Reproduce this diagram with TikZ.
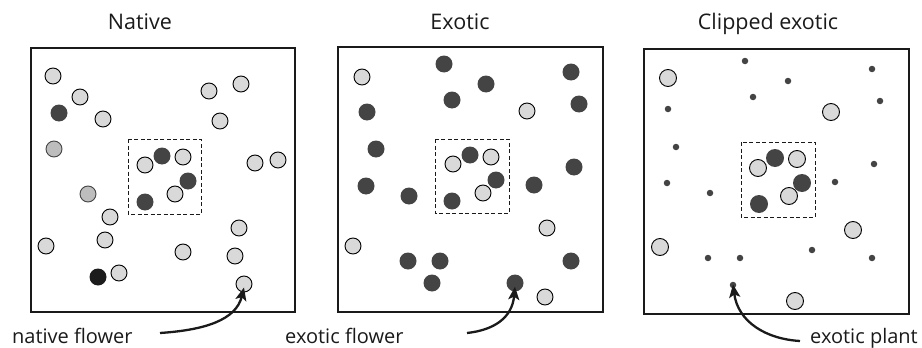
\documentclass[tikz,border=0pt]{standalone}
\usepackage{fontspec}
\setmainfont{Open Sans}
\usetikzlibrary{arrows.meta}
\definecolor{lightc}{HTML}{D9D9D9}
\definecolor{darkc}{HTML}{444444}
\definecolor{midc}{HTML}{BDBDBD}
\definecolor{blackc}{HTML}{1C1C1C}
\definecolor{inkc}{HTML}{1A1A1A}
\tikzset{
  light/.style={circle,draw=black,line width=0.9pt,fill=lightc,minimum size=16pt,inner sep=0pt},
  darkf/.style={circle,fill=darkc,minimum size=17pt,inner sep=0pt},
  midf/.style={circle,draw=darkc,line width=0.9pt,fill=midc,minimum size=16pt,inner sep=0pt},
  blackf/.style={circle,fill=blackc,minimum size=17pt,inner sep=0pt},
  dotf/.style={circle,fill=darkc,minimum size=6.5pt,inner sep=0pt},
  panel/.style={draw=inkc,line width=1.1pt},
  plot/.style={draw=inkc,line width=0.9pt,dash pattern=on 4pt off 2.5pt},
  title/.style={font=\fontsize{21.5pt}{25pt}\selectfont,text=inkc,anchor=base,inner sep=0pt},
  lab/.style={font=\fontsize{20pt}{24pt}\selectfont,text=inkc,anchor=base west,inner sep=0pt},
  pointer/.style={draw=inkc,line width=2.3pt,-{Stealth[length=13pt,width=11pt,inset=3pt]}}
}
\begin{document}
\begin{tikzpicture}[x=1pt,y=-1pt]
\useasboundingbox (0,0) rectangle (922,348);
% titles
\node[title] (t1) at (140,30) {Native};
\node[title] (t2) at (460,30) {Exotic};
\node[title] (t3) at (768,30) {Clipped exotic};
% panels
\draw[panel] (31,48) rectangle (295,312);
\draw[panel] (338,47) rectangle (603,312);
\draw[panel] (644,49) rectangle (909,314);
\draw[plot] (128,139) rectangle (201,214);
\draw[plot] (435,139) rectangle (509,213);
\draw[plot] (741,142) rectangle (815,217);
% ---- Native panel
\foreach \x/\y [count=\i] in {53/76,80/97,103/119,209/91,241/84,220/121,255/163,278/160,110/217,46/246,105/240,183/252,239/228,235/256,119/273,145/165,183/157,175/194}
  \node[light] (na\i) at (\x,\y) {};
\node[light] (nf) at (244,284) {};
\foreach \x/\y [count=\i] in {59/113,162/156,188/181,145/202}
  \node[darkf] (nd\i) at (\x,\y) {};
\node[midf] (nm1) at (54,149) {};
\node[midf] (nm2) at (88,194) {};
\node[blackf] (nb1) at (98,277) {};
% ---- Exotic panel
\foreach \x/\y [count=\i] in {362/77,527/111,547/228,353/246,545/297,453/164,491/157,483/193}
  \node[light] (ea\i) at (\x,\y) {};
\foreach \x/\y [count=\i] in {444/64,486/84,452/100,571/72,579/104,367/112,376/149,366/186,409/196,534/185,574/167,408/261,440/261,432/283,571/261,470/155,496/180,452/201}
  \node[darkf] (ed\i) at (\x,\y) {};
\node[darkf] (ef) at (515,283) {};
% ---- Clipped exotic panel
\foreach \x/\y [count=\i] in {668/78,831/112,853/230,660/247,795/301,758/168,797/159,789/196}
  \node[light,minimum size=17pt] (ca\i) at (\x,\y) {};
\foreach \x/\y [count=\i] in {775/158,802/183,759/204}
  \node[darkf,minimum size=18pt] (cd\i) at (\x,\y) {};
\foreach \x/\y [count=\i] in {745/61,788/81,872/69,880/101,753/97,668/109,676/147,874/164,667/183,710/193,835/182,812/250,708/258,740/258,872/258}
  \node[dotf] (cs\i) at (\x,\y) {};
\node[dotf] (cp) at (733,285) {};
% ---- labels
\node[lab] (l1) at (12,343) {native flower};
\node[lab] (l2) at (285,343) {exotic flower};
\node[lab] (l3) at (810,343) {exotic plant};
% ---- pointers
\coordinate (s1) at (160,333);
\coordinate (s2) at (467,333);
\coordinate (s3) at (800,341);
\draw[pointer] (s1) .. controls (205,330) and (236,320) .. ([yshift=5pt]nf.south);
\draw[pointer] (s2) .. controls (494,330) and (512,318) .. ([yshift=5pt]ef.south);
\draw[pointer] (s3) .. controls (766,339) and (738,322) .. ([yshift=4pt]cp.south);
\end{tikzpicture}
\end{document}
